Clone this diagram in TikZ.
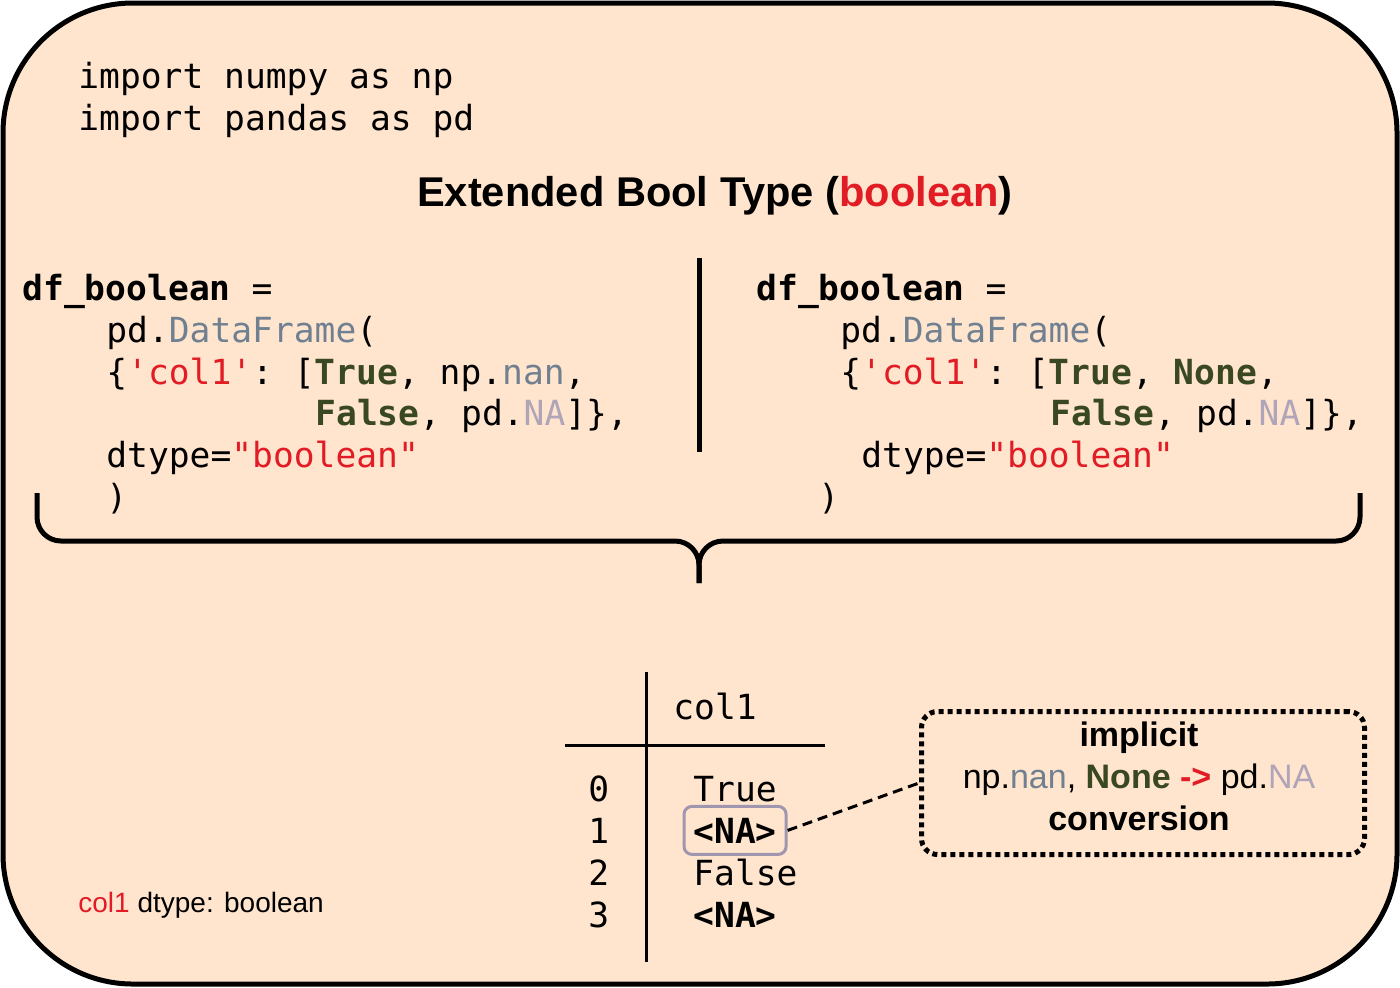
\documentclass[tikz,border=0pt]{standalone}
\usepackage{fontspec}
\setmainfont{Liberation Sans}
\setmonofont{DejaVu Sans Mono}
\usepackage{tikz}
\usetikzlibrary{positioning, fit, calc}
\usepackage{xcolor}
\definecolor{peach}{RGB}{255,229,206}
\definecolor{redc}{RGB}{226,28,36}
\definecolor{kwgreen}{RGB}{58,72,34}
\definecolor{slate}{RGB}{112,128,144}
\definecolor{nagray}{RGB}{176,164,184}
\definecolor{naboxcolor}{RGB}{160,150,175}
\newcommand{\codefont}{\fontsize{17.3}{21}\selectfont\ttfamily}
\newcommand{\kw}[1]{\textbf{\textcolor{kwgreen}{#1}}}

\begin{document}
\begin{tikzpicture}[
    x=0.5pt, y=-0.5pt,
    code/.style={anchor=base west, inner sep=0pt, font=\codefont},
    heavy/.style={line width=2.5pt},
    rule/.style={line width=1.5pt},
    nabox/.style={draw=naboxcolor, line width=1.5pt, rounded corners=4pt, inner xsep=4.5pt, inner ysep=5.5pt},
    notebox/.style={draw, line width=2.5pt, dash pattern=on 2.5pt off 2pt, rounded corners=8pt,
        minimum width=221.5pt, minimum height=71.5pt},
    notetext/.style={align=center, inner sep=0pt, font=\fontsize{17}{21}\selectfont}
]
\useasboundingbox (0,0) rectangle (1400,987);

% Frame
\draw[heavy, fill=peach, rounded corners=65pt] (3,3) rectangle (1397,984);

% Imports and title
\node[code] (imp1) at (78,88) {import numpy as np};
\node[code] (imp2) at (78,130) {import pandas as pd};
\node[anchor=base, inner sep=0pt, font=\fontsize{20.8}{25}\selectfont\bfseries] (title) at (715,206)
    {Extended Bool Type (\textcolor{redc}{boolean})};

% Left code
\node[code] (l1) at (22,300) {\textbf{df\_boolean} =};
\node[code] (l2) at (106,342) {pd.\textcolor{slate}{DataFrame}(};
\node[code] (l3) at (106,384) {\{\textcolor{redc}{'col1'}: [\kw{True}, np.\textcolor{slate}{nan},};
\node[code] (l4) at (315,425) {\kw{False}, pd.\textcolor{nagray}{NA}]\},};
\node[code] (l5) at (106,467) {dtype=\textcolor{redc}{"boolean"}};
\node[code] (l6) at (106,509) {)};

% Divider
\draw[heavy] (699,258) -- (699,452);

% Right code
\node[code] (r1) at (756,300) {\textbf{df\_boolean} =};
\node[code] (r2) at (840,342) {pd.\textcolor{slate}{DataFrame}(};
\node[code] (r3) at (840,384) {\{\textcolor{redc}{'col1'}: [\kw{True}, \kw{None},};
\node[code] (r4) at (1050,425) {\kw{False}, pd.\textcolor{nagray}{NA}]\},};
\node[code] (r5) at (861,467) {dtype=\textcolor{redc}{"boolean"}};
\node[code] (r6) at (818,509) {)};

% Brace
\draw[heavy, rounded corners=12pt] (37,493) -- (37,541) -- (699,541) -- (699,583);
\draw[heavy, rounded corners=12pt] (1360,493) -- (1360,541) -- (699,541) -- (699,583);

% Result table
\draw[rule] (646,672) -- (646,962);
\draw[rule] (565,745) -- (825,745);
\node[code] (head) at (673,719) {col1};
\node[code] (i0) at (588,801) {0};
\node[code] (i1) at (588,843) {1};
\node[code] (i2) at (588,885) {2};
\node[code] (i3) at (588,927) {3};
\node[code] (v0) at (693,801) {True};
\node[code] (v1) at (693,843) {\textbf{<NA>}};
\node[code] (v2) at (693,885) {False};
\node[code] (v3) at (693,927) {\textbf{<NA>}};
\node[nabox, fit=(v1)] (nabox) {};

% Note
\node[notebox] (note) at (1143,783) {};
\node[notetext] (notetxt) at (1139,776)
    {\textbf{implicit}\\
     np.\textcolor{slate}{nan}, \kw{None} \textbf{\textcolor{redc}{->}} pd.\textcolor{nagray}{NA}\\
     \textbf{conversion}};
\draw[rule, dash pattern=on 5pt off 3pt] (nabox.east) -- (note.west);

% dtype label
\node[anchor=base west, inner sep=0pt, font=\fontsize{14}{17}\selectfont] (dtype) at (78,912)
    {\textcolor{redc}{col1} dtype: boolean};

\end{tikzpicture}
\end{document}
